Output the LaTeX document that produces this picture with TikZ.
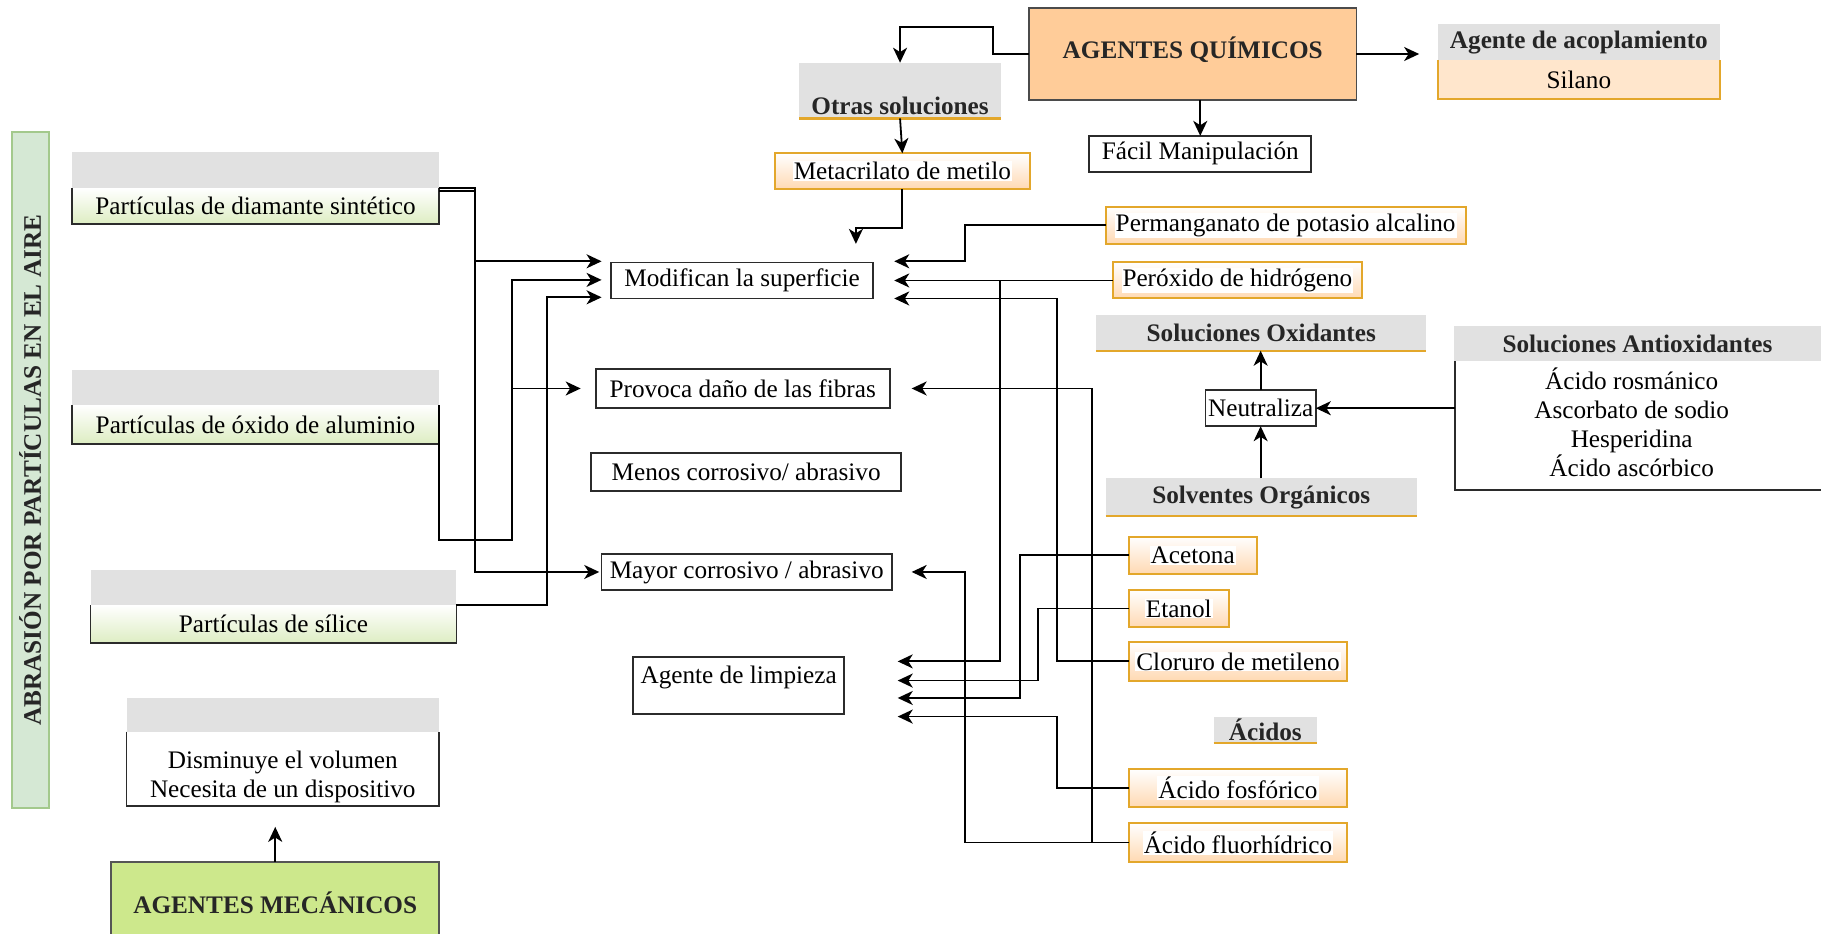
\documentclass[tikz,border=0pt]{standalone}
\usepackage{fontspec}
\setmainfont{Liberation Serif}
\usetikzlibrary{arrows.meta,calc}
\definecolor{grayhd}{HTML}{E1E1E1}
\definecolor{orng}{HTML}{E3A72B}
\definecolor{peach}{HTML}{FFD9B3}
\definecolor{silfill}{HTML}{FFE6CC}
\definecolor{lgreen}{HTML}{DDEDC2}
\definecolor{barfill}{HTML}{D5E8D4}
\definecolor{barline}{HTML}{A3C98C}
\definecolor{mecfill}{HTML}{CDE88C}
\definecolor{quimfill}{HTML}{FFCC99}
\definecolor{bline}{HTML}{2B2B2B}
\newcommand{\rbox}[7]{\node[#1, minimum width={(#5-#3)*0.58pt}, minimum height={(#6-#4)*0.58pt}] (#2) at ({(#3+#5)/2},{(#4+#6)/2}) {#7};}
\newcommand{\obx}[6]{\rbox{obox}{#1}{#2}{#3}{#4}{#5}{}\node[otext] (#1-t) at (#1.center) {#6};}
\newcommand{\bodyframe}[2][side3]{\draw[#1] (#2.north west) -- (#2.south west) -- (#2.south east) -- (#2.north east);}
\begin{document}
\begin{tikzpicture}[x=0.58pt,y=-0.58pt,
  nbase/.style={rectangle, inner sep=1pt, outer sep=0pt, font=\fontsize{12.6}{14.5}\selectfont, align=center},
  wbox/.style={nbase, draw=bline, line width=0.9pt, fill=white},
  hdr/.style={nbase, fill=grayhd, font=\fontsize{12.6}{14.5}\selectfont\bfseries, text=black!85},
  btxt/.style={nbase, font=\fontsize{12.6}{14.5}\selectfont\bfseries, text=black!85},
  gbody/.style={nbase, top color=white, bottom color=lgreen},
  obox/.style={nbase, draw=orng, line width=1pt, top color=white, bottom color=peach},
  otext/.style={nbase, fill=white, inner sep=0.5pt},
  conn/.style={line width=0.9pt, draw=black},
  arr/.style={conn, -{Stealth[length=7.5pt,width=7pt,inset=2.2pt]}},
  side3/.style={line width=0.9pt, draw=bline},
  oside/.style={line width=1pt, draw=orng},
  uline/.style={line width=1.1pt, draw=orng}
]
\useasboundingbox (0,0) rectangle (1568,804);

% ---------- left bar ----------
\rbox{nbase, draw=barline, line width=1pt, fill=barfill}{bar}{10}{114}{42}{696}{}
\node[btxt, rotate=90] (bartxt) at (bar.center) {ABRASIÓN POR PARTÍCULAS EN EL AIRE};

% ---------- particles ----------
\rbox{hdr}{h1}{62}{131}{378}{162}{}
\rbox{gbody}{d1}{62}{162}{378}{193}{Partículas de diamante sintético}
\bodyframe{d1}
\rbox{hdr}{h2}{62}{319}{378}{349}{}
\rbox{gbody}{d2}{62}{349}{378}{382}{Partículas de óxido de aluminio}
\bodyframe{d2}
\rbox{hdr}{h3}{78}{491}{393}{521}{}
\rbox{gbody}{d3}{78}{521}{393}{554}{Partículas de sílice}
\bodyframe{d3}
\rbox{hdr}{h4}{109}{601}{378}{630}{}
\rbox{nbase, fill=white}{d4}{109}{630}{378}{694}{}
\bodyframe{d4}
\node[nbase] (d4t) at (243.5,669) {Disminuye el volumen\\Necesita de un dispositivo};
\rbox{nbase, draw=bline!80, line width=1pt, fill=mecfill, font=\fontsize{12.6}{14.5}\selectfont\bfseries}{mec}{96}{742}{378}{810}{}
\node[btxt] (mect) at (237,777) {AGENTES MECÁNICOS};

% ---------- middle ----------
\rbox{wbox}{modif}{526}{226}{752}{257}{Modifican la superficie}
\rbox{wbox}{provoca}{513}{318}{766}{351}{Provoca daño de las fibras}
\rbox{wbox}{menos}{509}{390}{776}{423}{Menos corrosivo/ abrasivo}
\rbox{wbox}{mayor}{518}{477}{768}{508}{Mayor corrosivo / abrasivo}
\rbox{wbox}{limp}{545}{566}{727}{615}{}
\node[nbase] (limpt) at (636,583) {Agente de limpieza};

% ---------- top ----------
\rbox{wbox, fill=quimfill, draw=bline!85}{quim}{886}{7}{1168}{86}{}
\node[btxt] (quimt) at (1027,43) {AGENTES QUÍMICOS};
\rbox{hdr}{otras}{688}{54}{862}{102}{}
\node[btxt] (otrast) at (775,91) {Otras soluciones};
\draw[uline] (otras.south west) -- (otras.south east);
\obx{meta}{667}{132}{887}{163}{Metacrilato de metilo}
\rbox{wbox}{facil}{938}{117}{1129}{148}{Fácil Manipulación}
\rbox{hdr}{acoph}{1238}{21}{1481}{52}{Agente de acoplamiento}
\rbox{nbase, fill=silfill}{silano}{1238}{52}{1481}{85}{Silano}
\bodyframe[oside]{silano}

% ---------- right ----------
\obx{perm}{952}{178}{1262}{210}{Permanganato de potasio alcalino}
\obx{perox}{958}{226}{1173}{257}{Peróxido de hidrógeno}
\rbox{hdr}{oxid}{944}{271}{1228}{302}{Soluciones Oxidantes}
\draw[uline] (oxid.south west) -- (oxid.south east);
\rbox{wbox, inner sep=0.3pt}{neut}{1038}{336}{1133}{367}{Neutraliza}
\rbox{hdr}{solv}{952}{412}{1220}{444}{Solventes Orgánicos}
\draw[uline] (solv.south west) -- (solv.south east);
\rbox{hdr}{antioxh}{1252}{281}{1568}{311}{Soluciones Antioxidantes}
\rbox{nbase}{antioxb}{1253}{311}{1568}{422}{}
\draw[side3] (antioxb.north west) -- (antioxb.south west) -- (antioxb.south east);
\node[nbase] (antioxt) at (1405,363.5) {Ácido rosmánico\\Ascorbato de sodio\\Hesperidina\\Ácido ascórbico};
\obx{acet}{972}{462}{1082}{494}{Acetona}
\obx{etan}{972}{508}{1058}{540}{Etanol}
\obx{clor}{972}{553}{1160}{586}{Cloruro de metileno}
\rbox{hdr}{acidos}{1045}{617}{1134}{640}{Ácidos}
\draw[uline] (acidos.south west) -- (acidos.south east);
\obx{fosf}{972}{662}{1160}{695}{Ácido fosfórico}
\obx{fluor}{972}{709}{1160}{742}{Ácido fluorhídrico}

% ---------- free arrow ends ----------
\coordinate (mL1) at (518,225);
\coordinate (mL2) at (518,241);
\coordinate (mL3) at (518,256);
\coordinate (pL) at (500,334.5);
\coordinate (myL) at (516,492.5);
\coordinate (mR1) at (770,225);
\coordinate (mR2) at (770,241.5);
\coordinate (mR3) at (770,257);
\coordinate (pR) at (785,334.5);
\coordinate (myR) at (785,492.5);
\coordinate (lR1) at (773,569.5);
\coordinate (lR2) at (773,586);
\coordinate (lR3) at (773,601);
\coordinate (lR4) at (773,617);
\coordinate (freeA) at (737,210);
\coordinate (acopIn) at (1222,46.5);
\coordinate (mecUp) at (237,712);

% ---------- connectors left ----------
\draw[arr] (d1.north east) -- ++(31,0) |- (mL1);
\draw[arr] ([yshift=-1.4pt]d1.north east) -- ++(31,0) |- (myL);
\draw[arr] (d2.north east) -- ++(0,116) -- ++(63,0) |- (mL2);
\draw[arr] (d2.north east) -- ++(0,116) -- ++(63,0) |- (pL);
\draw[arr] (d3.north east) -- ++(78,0) |- (mL3);
\draw[arr] (mec.north) -- (mecUp);

% ---------- connectors top ----------
\draw[arr] (quim.west) -- ++(-31,0) -- ++(0,-23.5) -| (otras.north);
\draw[arr] (otras.south) -- (meta.north);
\draw[arr] (meta.south) -- ++(0,33) -| (freeA);
\draw[arr] (facil.north |- quim.south) -- (facil.north);
\draw[arr] (quim.east) -- (acopIn);

% ---------- connectors right ----------
\draw[arr] (perm.west) -- ++(-121,0) |- (mR1);
\draw[arr] (perox.west) -- (mR2);
\draw[arr] (perox.west) -- ++(-97,0) |- (lR1);
\draw[arr] (clor.west) -- ++(-62,0) |- (mR3);
\draw[arr] (fluor.west) -- ++(-32,0) |- (pR);
\draw[arr] (fluor.west) -- ++(-141,0) |- (myR);
\draw[arr] (acet.west) -- ++(-94,0) |- (lR3);
\draw[arr] (etan.west) -- ++(-78,0) |- (lR2);
\draw[arr] (fosf.west) -- ++(-62,0) |- (lR4);
\draw[arr] (neut.north) -- (neut.north |- oxid.south);
\draw[arr] (neut.south |- solv.north) -- (neut.south);
\draw[arr] (antioxb.west |- neut.east) -- (neut.east);
\end{tikzpicture}
\end{document}
